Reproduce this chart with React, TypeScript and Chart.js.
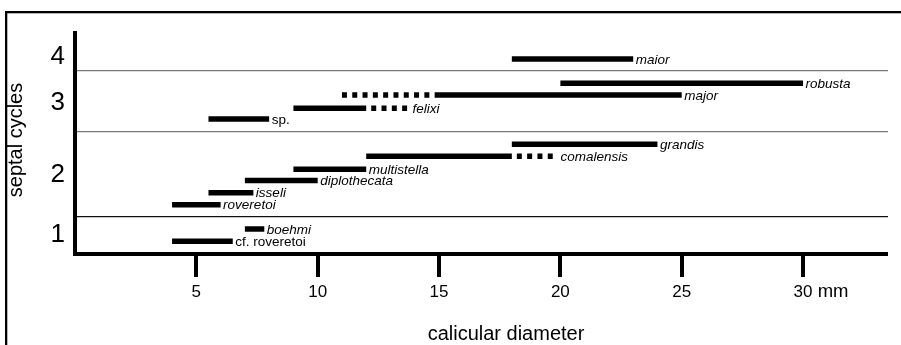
import React, { useEffect, useRef } from 'react';
import { Chart, registerables } from 'chart.js';

Chart.register(...registerables);

// ---- data ----
const speciesNames = ['cf. roveretoi', 'boehmi', 'roveretoi', 'isseli', 'diplothecata', 'multistella', 'comalensis', 'grandis', 'sp.', 'felixi', 'major', 'robusta', 'maior'];
const speciesItalic = [false, true, true, true, true, true, true, true, false, true, true, true, true];
const rowLevels = [0.99, 1.98, 3.95, 4.92, 5.91, 6.82, 7.87, 8.83, 10.88, 11.75, 12.82, 13.77, 15.74];
const solidFrom = [4, 7, 4, 5.5, 7, 9, 12, 18, 5.5, 9, 15, 20, 18];
const solidTo = [6.5, 7.8, 6, 7.35, 10, 12, 18, 24, 8, 12, 25, 30, 23];
const dashedFrom: (number | null)[] = [null, null, null, null, null, null, 18, null, null, 12, 11, null, null];
const dashedTo: (number | null)[] = [null, null, null, null, null, null, 19.8, null, null, 13.7, 15, null, null];

const cycleLabels = ['1', '2', '3', '4'];
const cycleLevels = [1.54, 6.35, 12.22, 15.94];
const cycleBoundaries = [2.95, 9.83, 14.77];
const yMax = 17.84;
const xMax = 33.5;
const xTickValues = [5, 10, 15, 20, 25, 30];
const xUnitLabel = 'mm';
const xTitle = 'calicular diameter';
const yTitle = 'septal cycles';

const FONT = '"Liberation Sans", Arial, Helvetica, sans-serif';
const W = 901;
const H = 345;

export default function App() {
  const ref = useRef<HTMLCanvasElement | null>(null);

  useEffect(() => {
    const canvas = ref.current;
    if (!canvas) return;

    const datasets: any[] = [];
    speciesNames.forEach((name, i) => {
      datasets.push({
        label: name,
        data: [
          { x: solidFrom[i], y: rowLevels[i] },
          { x: solidTo[i], y: rowLevels[i] },
        ],
        borderColor: '#000',
        borderWidth: 5.5,
        borderCapStyle: 'butt',
        pointRadius: 0,
        fill: false,
      });
      const df = dashedFrom[i];
      const dt = dashedTo[i];
      if (df !== null && dt !== null) {
        datasets.push({
          label: name + ' (dashed)',
          data: [
            { x: df, y: rowLevels[i] },
            { x: dt, y: rowLevels[i] },
          ],
          borderColor: '#000',
          borderWidth: 5.5,
          borderCapStyle: 'butt',
          borderDash: [5, 5.3],
          borderDashOffset: df < solidFrom[i] ? 0 : 5.3,
          pointRadius: 0,
          fill: false,
        });
      }
    });

    const decor = {
      id: 'decor',
      beforeDraw(chart: any) {
        const ctx = chart.ctx;
        ctx.save();
        ctx.fillStyle = '#fff';
        ctx.fillRect(0, 0, W, H);
        ctx.fillStyle = '#000';
        ctx.fillRect(5, 11, W - 5, 2.3);
        ctx.fillRect(5, 11, 2.3, H - 11);
        ctx.restore();
      },
      afterDatasetsDraw(chart: any) {
        const ctx = chart.ctx;
        const xs = chart.scales.x;
        const ys = chart.scales.y;
        ctx.save();
        ctx.fillStyle = '#000';
        ctx.textBaseline = 'middle';
        ctx.textAlign = 'left';
        speciesNames.forEach((name, i) => {
          const dt = dashedTo[i];
          const end = dt !== null && dt > solidTo[i] ? dt : solidTo[i];
          const gap = dt !== null && dt > solidTo[i] ? 5 : 2.5;
          ctx.font = (speciesItalic[i] ? 'italic ' : '') + '13.5px ' + FONT;
          ctx.fillText(name, xs.getPixelForValue(end) + gap, ys.getPixelForValue(rowLevels[i]) + 1);
        });
        ctx.restore();
      },
      afterDraw(chart: any) {
        const ctx = chart.ctx;
        const xs = chart.scales.x;
        ctx.save();
        ctx.fillStyle = '#000';
        // y title
        ctx.font = '20px ' + FONT;
        ctx.textAlign = 'center';
        ctx.textBaseline = 'middle';
        ctx.translate(16.5, 140);
        ctx.rotate(-Math.PI / 2);
        ctx.fillText(yTitle, 0, 0);
        ctx.restore();
        ctx.save();
        ctx.fillStyle = '#000';
        ctx.font = '20px ' + FONT;
        ctx.textAlign = 'center';
        ctx.textBaseline = 'alphabetic';
        ctx.fillText(xTitle, 506, 340);
        // unit after last tick label
        ctx.font = '17px ' + FONT;
        const last = xTickValues[xTickValues.length - 1];
        const w = ctx.measureText(String(last)).width;
        ctx.textAlign = 'left';
        ctx.textBaseline = 'middle';
        ctx.font = '18.5px ' + FONT;
        ctx.fillText(' ' + xUnitLabel, xs.getPixelForValue(last) + w / 2, 292);
        ctx.restore();
      },
    };

    const chart = new Chart(canvas, {
      type: 'line',
      data: { datasets },
      options: {
        animation: false,
        responsive: false,
        devicePixelRatio: 1,
        layout: { padding: { left: 0, right: 13, top: 33, bottom: 0 } },
        plugins: {
          legend: { display: false },
          tooltip: { enabled: false },
          title: { display: false },
        },
        scales: {
          x: {
            type: 'linear',
            min: 0,
            max: xMax,
            afterFit: (s: any) => {
              s.height = H - 253.5;
            },
            afterBuildTicks: (s: any) => {
              s.ticks = xTickValues.map((v) => ({ value: v }));
            },
            ticks: {
              color: '#000',
              font: { family: FONT, size: 17 },
              padding: 5,
              maxRotation: 0,
              autoSkip: false,
              callback: (v: any) => String(v),
            },
            grid: {
              display: true,
              drawOnChartArea: false,
              drawTicks: true,
              tickLength: 23.5,
              tickWidth: 4,
              tickColor: '#000',
              lineWidth: 0,
            },
            border: { display: true, color: '#000', width: 4 },
          },
          y: {
            type: 'linear',
            position: 'left',
            min: 0,
            max: yMax,
            afterFit: (s: any) => {
              s.width = 75;
            },
            afterBuildTicks: (s: any) => {
              s.ticks = cycleLevels.map((v) => ({ value: v }));
            },
            ticks: {
              color: '#000',
              font: { family: FONT, size: 26 },
              padding: 10,
              autoSkip: false,
              callback: (_v: any, i: number) => cycleLabels[i],
            },
            grid: { display: true, drawOnChartArea: false, drawTicks: false },
            border: { display: true, color: '#000', width: 4 },
          },
          yg: {
            type: 'linear',
            position: 'left',
            min: 0,
            max: yMax,
            afterFit: (s: any) => {
              s.width = 0;
            },
            afterBuildTicks: (s: any) => {
              s.ticks = cycleBoundaries.map((v) => ({ value: v }));
            },
            ticks: { display: false },
            grid: {
              display: true,
              drawTicks: false,
              lineWidth: 1.2,
              color: (c: any) => (c.index === 0 ? '#111' : '#7a7a7a'),
            },
            border: { display: false },
          },
        },
      },
      plugins: [decor],
    } as any);

    return () => chart.destroy();
  }, []);

  return (
    <div style={{ position: 'fixed', left: 0, top: 0, width: W, height: H, background: '#fff' }}>
      <canvas ref={ref} width={W} height={H} style={{ width: W, height: H, display: 'block' }} />
    </div>
  );
}
